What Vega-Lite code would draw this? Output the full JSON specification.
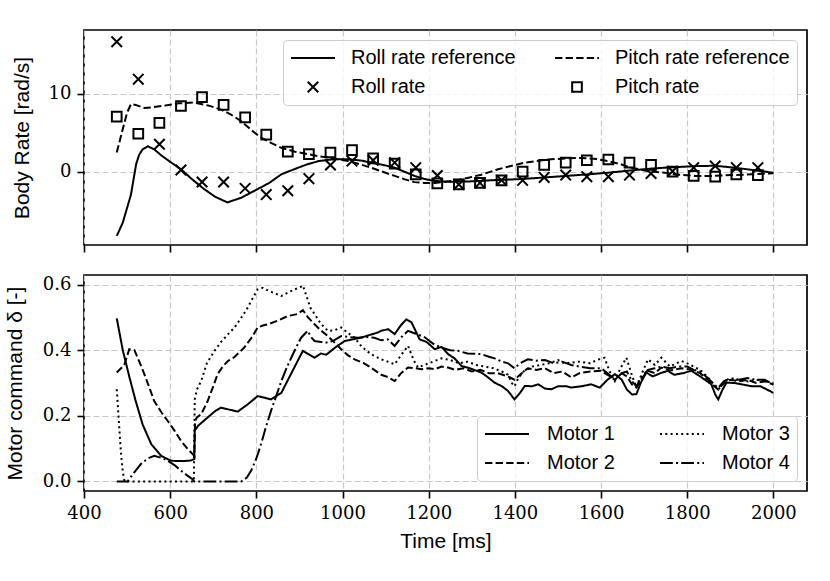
{
  "$schema": "https://vega.github.io/schema/vega-lite/v6.json",
  "background": "white",
  "autosize": {"type": "pad"},
  "padding": {"left": 3, "top": 29, "right": 24, "bottom": 5},
  "spacing": 20,
  "resolve": {
    "scale": {"strokeDash": "independent", "shape": "independent"},
    "legend": {"strokeDash": "independent", "shape": "independent"}
  },
  "config": {
    "view": {"stroke": "black", "strokeWidth": 1.7},
    "axis": {
      "domain": false,
      "tickColor": "black",
      "tickWidth": 1.6,
      "tickSize": 7,
      "labelFont": "DejaVu Serif",
      "labelFontSize": 18,
      "labelColor": "black",
      "labelPadding": 6,
      "labelFlush": false,
      "titleFont": "Liberation Sans",
      "titleFontSize": 21,
      "titleFontWeight": "normal",
      "titleColor": "black",
      "gridColor": "#c8c8c8",
      "gridDash": [6, 3],
      "gridWidth": 1.2
    },
    "legend": {
      "title": null,
      "labelFont": "Liberation Sans",
      "labelFontSize": 20,
      "labelColor": "black",
      "labelLimit": 400,
      "fillColor": "rgba(255,255,255,0.8)",
      "strokeColor": "#cccccc",
      "cornerRadius": 4,
      "padding": 7,
      "columnPadding": 38,
      "rowPadding": 7,
      "clipHeight": 22,
      "labelOffset": 15,
      "symbolStrokeWidth": 2,
      "symbolStrokeColor": "black",
      "symbolFillColor": "transparent"
    }
  },
  "datasets": {
    "rates": [
      {"t": 476, "v": -8.2, "s": "Roll rate reference"},
      {"t": 490, "v": -6.5, "s": "Roll rate reference"},
      {"t": 500, "v": -4.6, "s": "Roll rate reference"},
      {"t": 509, "v": -2.9, "s": "Roll rate reference"},
      {"t": 521, "v": 1.0, "s": "Roll rate reference"},
      {"t": 528, "v": 2.2, "s": "Roll rate reference"},
      {"t": 536, "v": 2.9, "s": "Roll rate reference"},
      {"t": 548, "v": 3.3, "s": "Roll rate reference"},
      {"t": 563, "v": 2.9, "s": "Roll rate reference"},
      {"t": 580, "v": 2.1, "s": "Roll rate reference"},
      {"t": 600, "v": 1.3, "s": "Roll rate reference"},
      {"t": 625, "v": 0.35, "s": "Roll rate reference"},
      {"t": 650, "v": -0.9, "s": "Roll rate reference"},
      {"t": 679, "v": -2.2, "s": "Roll rate reference"},
      {"t": 705, "v": -3.2, "s": "Roll rate reference"},
      {"t": 733, "v": -3.9, "s": "Roll rate reference"},
      {"t": 765, "v": -3.3, "s": "Roll rate reference"},
      {"t": 796, "v": -2.4, "s": "Roll rate reference"},
      {"t": 830, "v": -1.4, "s": "Roll rate reference"},
      {"t": 858, "v": -0.3, "s": "Roll rate reference"},
      {"t": 890, "v": 0.4, "s": "Roll rate reference"},
      {"t": 919, "v": 1.0, "s": "Roll rate reference"},
      {"t": 945, "v": 1.4, "s": "Roll rate reference"},
      {"t": 974, "v": 1.6, "s": "Roll rate reference"},
      {"t": 1000, "v": 1.65, "s": "Roll rate reference"},
      {"t": 1020, "v": 1.6, "s": "Roll rate reference"},
      {"t": 1045, "v": 1.45, "s": "Roll rate reference"},
      {"t": 1066, "v": 1.2, "s": "Roll rate reference"},
      {"t": 1095, "v": 0.9, "s": "Roll rate reference"},
      {"t": 1121, "v": 0.55, "s": "Roll rate reference"},
      {"t": 1145, "v": 0.0, "s": "Roll rate reference"},
      {"t": 1167, "v": -0.5, "s": "Roll rate reference"},
      {"t": 1190, "v": -0.9, "s": "Roll rate reference"},
      {"t": 1214, "v": -1.15, "s": "Roll rate reference"},
      {"t": 1250, "v": -1.25, "s": "Roll rate reference"},
      {"t": 1300, "v": -1.2, "s": "Roll rate reference"},
      {"t": 1350, "v": -1.05, "s": "Roll rate reference"},
      {"t": 1416, "v": -0.9, "s": "Roll rate reference"},
      {"t": 1470, "v": -0.7, "s": "Roll rate reference"},
      {"t": 1520, "v": -0.5, "s": "Roll rate reference"},
      {"t": 1570, "v": -0.3, "s": "Roll rate reference"},
      {"t": 1616, "v": -0.1, "s": "Roll rate reference"},
      {"t": 1670, "v": 0.2, "s": "Roll rate reference"},
      {"t": 1720, "v": 0.45, "s": "Roll rate reference"},
      {"t": 1763, "v": 0.6, "s": "Roll rate reference"},
      {"t": 1820, "v": 0.75, "s": "Roll rate reference"},
      {"t": 1865, "v": 0.8, "s": "Roll rate reference"},
      {"t": 1910, "v": 0.55, "s": "Roll rate reference"},
      {"t": 1960, "v": 0.2, "s": "Roll rate reference"},
      {"t": 2000, "v": -0.1, "s": "Roll rate reference"},
      {"t": 476, "v": 2.5, "s": "Pitch rate reference"},
      {"t": 490, "v": 5.5, "s": "Pitch rate reference"},
      {"t": 500, "v": 7.6, "s": "Pitch rate reference"},
      {"t": 509, "v": 8.7, "s": "Pitch rate reference"},
      {"t": 520, "v": 8.6, "s": "Pitch rate reference"},
      {"t": 540, "v": 8.2, "s": "Pitch rate reference"},
      {"t": 560, "v": 8.3, "s": "Pitch rate reference"},
      {"t": 586, "v": 8.5, "s": "Pitch rate reference"},
      {"t": 620, "v": 8.8, "s": "Pitch rate reference"},
      {"t": 656, "v": 8.9, "s": "Pitch rate reference"},
      {"t": 690, "v": 8.5, "s": "Pitch rate reference"},
      {"t": 718, "v": 8.0, "s": "Pitch rate reference"},
      {"t": 740, "v": 7.4, "s": "Pitch rate reference"},
      {"t": 765, "v": 6.5, "s": "Pitch rate reference"},
      {"t": 790, "v": 5.3, "s": "Pitch rate reference"},
      {"t": 811, "v": 4.4, "s": "Pitch rate reference"},
      {"t": 835, "v": 3.7, "s": "Pitch rate reference"},
      {"t": 858, "v": 3.1, "s": "Pitch rate reference"},
      {"t": 890, "v": 2.6, "s": "Pitch rate reference"},
      {"t": 919, "v": 2.3, "s": "Pitch rate reference"},
      {"t": 945, "v": 2.0, "s": "Pitch rate reference"},
      {"t": 974, "v": 1.8, "s": "Pitch rate reference"},
      {"t": 1013, "v": 1.4, "s": "Pitch rate reference"},
      {"t": 1040, "v": 1.0, "s": "Pitch rate reference"},
      {"t": 1066, "v": 0.55, "s": "Pitch rate reference"},
      {"t": 1095, "v": 0.0, "s": "Pitch rate reference"},
      {"t": 1121, "v": -0.5, "s": "Pitch rate reference"},
      {"t": 1145, "v": -0.95, "s": "Pitch rate reference"},
      {"t": 1167, "v": -1.3, "s": "Pitch rate reference"},
      {"t": 1190, "v": -1.4, "s": "Pitch rate reference"},
      {"t": 1214, "v": -1.4, "s": "Pitch rate reference"},
      {"t": 1240, "v": -1.25, "s": "Pitch rate reference"},
      {"t": 1270, "v": -1.0, "s": "Pitch rate reference"},
      {"t": 1295, "v": -0.7, "s": "Pitch rate reference"},
      {"t": 1322, "v": -0.35, "s": "Pitch rate reference"},
      {"t": 1361, "v": 0.35, "s": "Pitch rate reference"},
      {"t": 1400, "v": 0.9, "s": "Pitch rate reference"},
      {"t": 1423, "v": 1.2, "s": "Pitch rate reference"},
      {"t": 1477, "v": 1.6, "s": "Pitch rate reference"},
      {"t": 1520, "v": 1.75, "s": "Pitch rate reference"},
      {"t": 1554, "v": 1.8, "s": "Pitch rate reference"},
      {"t": 1590, "v": 1.65, "s": "Pitch rate reference"},
      {"t": 1616, "v": 1.4, "s": "Pitch rate reference"},
      {"t": 1645, "v": 1.0, "s": "Pitch rate reference"},
      {"t": 1670, "v": 0.55, "s": "Pitch rate reference"},
      {"t": 1710, "v": 0.1, "s": "Pitch rate reference"},
      {"t": 1748, "v": -0.1, "s": "Pitch rate reference"},
      {"t": 1780, "v": -0.35, "s": "Pitch rate reference"},
      {"t": 1817, "v": -0.5, "s": "Pitch rate reference"},
      {"t": 1860, "v": -0.5, "s": "Pitch rate reference"},
      {"t": 1902, "v": -0.4, "s": "Pitch rate reference"},
      {"t": 1950, "v": -0.3, "s": "Pitch rate reference"},
      {"t": 2000, "v": -0.15, "s": "Pitch rate reference"},
      {"t": 476, "v": 16.7, "s": "Roll rate"},
      {"t": 526, "v": 11.9, "s": "Roll rate"},
      {"t": 575, "v": 3.55, "s": "Roll rate"},
      {"t": 625, "v": 0.26, "s": "Roll rate"},
      {"t": 674, "v": -1.28, "s": "Roll rate"},
      {"t": 724, "v": -1.28, "s": "Roll rate"},
      {"t": 774, "v": -2.1, "s": "Roll rate"},
      {"t": 823, "v": -2.9, "s": "Roll rate"},
      {"t": 873, "v": -2.4, "s": "Roll rate"},
      {"t": 922, "v": -0.86, "s": "Roll rate"},
      {"t": 972, "v": 0.9, "s": "Roll rate"},
      {"t": 1022, "v": 1.4, "s": "Roll rate"},
      {"t": 1071, "v": 1.5, "s": "Roll rate"},
      {"t": 1121, "v": 1.2, "s": "Roll rate"},
      {"t": 1170, "v": 0.55, "s": "Roll rate"},
      {"t": 1220, "v": -0.45, "s": "Roll rate"},
      {"t": 1270, "v": -1.6, "s": "Roll rate"},
      {"t": 1319, "v": -1.4, "s": "Roll rate"},
      {"t": 1369, "v": -1.07, "s": "Roll rate"},
      {"t": 1418, "v": -1.07, "s": "Roll rate"},
      {"t": 1468, "v": -0.7, "s": "Roll rate"},
      {"t": 1518, "v": -0.4, "s": "Roll rate"},
      {"t": 1567, "v": -0.6, "s": "Roll rate"},
      {"t": 1617, "v": -0.6, "s": "Roll rate"},
      {"t": 1666, "v": -0.4, "s": "Roll rate"},
      {"t": 1716, "v": -0.2, "s": "Roll rate"},
      {"t": 1766, "v": 0.1, "s": "Roll rate"},
      {"t": 1815, "v": 0.55, "s": "Roll rate"},
      {"t": 1865, "v": 0.77, "s": "Roll rate"},
      {"t": 1914, "v": 0.55, "s": "Roll rate"},
      {"t": 1964, "v": 0.55, "s": "Roll rate"},
      {"t": 476, "v": 7.1, "s": "Pitch rate"},
      {"t": 526, "v": 4.9, "s": "Pitch rate"},
      {"t": 575, "v": 6.3, "s": "Pitch rate"},
      {"t": 625, "v": 8.46, "s": "Pitch rate"},
      {"t": 674, "v": 9.6, "s": "Pitch rate"},
      {"t": 724, "v": 8.6, "s": "Pitch rate"},
      {"t": 774, "v": 7.0, "s": "Pitch rate"},
      {"t": 823, "v": 4.8, "s": "Pitch rate"},
      {"t": 873, "v": 2.6, "s": "Pitch rate"},
      {"t": 922, "v": 2.3, "s": "Pitch rate"},
      {"t": 972, "v": 2.5, "s": "Pitch rate"},
      {"t": 1022, "v": 2.8, "s": "Pitch rate"},
      {"t": 1071, "v": 1.75, "s": "Pitch rate"},
      {"t": 1121, "v": 1.06, "s": "Pitch rate"},
      {"t": 1170, "v": -0.3, "s": "Pitch rate"},
      {"t": 1220, "v": -1.45, "s": "Pitch rate"},
      {"t": 1270, "v": -1.6, "s": "Pitch rate"},
      {"t": 1319, "v": -1.4, "s": "Pitch rate"},
      {"t": 1369, "v": -1.07, "s": "Pitch rate"},
      {"t": 1418, "v": 0.04, "s": "Pitch rate"},
      {"t": 1468, "v": 0.9, "s": "Pitch rate"},
      {"t": 1518, "v": 1.2, "s": "Pitch rate"},
      {"t": 1567, "v": 1.5, "s": "Pitch rate"},
      {"t": 1617, "v": 1.6, "s": "Pitch rate"},
      {"t": 1666, "v": 1.2, "s": "Pitch rate"},
      {"t": 1716, "v": 0.9, "s": "Pitch rate"},
      {"t": 1766, "v": 0.04, "s": "Pitch rate"},
      {"t": 1815, "v": -0.5, "s": "Pitch rate"},
      {"t": 1865, "v": -0.6, "s": "Pitch rate"},
      {"t": 1914, "v": -0.3, "s": "Pitch rate"},
      {"t": 1964, "v": -0.4, "s": "Pitch rate"}
    ],
    "motors": [
      {"t": 476, "v": 0.497, "m": "Motor 1"},
      {"t": 490, "v": 0.40, "m": "Motor 1"},
      {"t": 505, "v": 0.32, "m": "Motor 1"},
      {"t": 520, "v": 0.245, "m": "Motor 1"},
      {"t": 536, "v": 0.174, "m": "Motor 1"},
      {"t": 556, "v": 0.114, "m": "Motor 1"},
      {"t": 579, "v": 0.078, "m": "Motor 1"},
      {"t": 602, "v": 0.063, "m": "Motor 1"},
      {"t": 630, "v": 0.062, "m": "Motor 1"},
      {"t": 648, "v": 0.064, "m": "Motor 1"},
      {"t": 656, "v": 0.068, "m": "Motor 1"},
      {"t": 657, "v": 0.155, "m": "Motor 1"},
      {"t": 665, "v": 0.17, "m": "Motor 1"},
      {"t": 687, "v": 0.195, "m": "Motor 1"},
      {"t": 705, "v": 0.215, "m": "Motor 1"},
      {"t": 718, "v": 0.225, "m": "Motor 1"},
      {"t": 740, "v": 0.218, "m": "Motor 1"},
      {"t": 757, "v": 0.213, "m": "Motor 1"},
      {"t": 780, "v": 0.235, "m": "Motor 1"},
      {"t": 803, "v": 0.26, "m": "Motor 1"},
      {"t": 820, "v": 0.255, "m": "Motor 1"},
      {"t": 834, "v": 0.25, "m": "Motor 1"},
      {"t": 858, "v": 0.27, "m": "Motor 1"},
      {"t": 888, "v": 0.347, "m": "Motor 1"},
      {"t": 908, "v": 0.398, "m": "Motor 1"},
      {"t": 925, "v": 0.385, "m": "Motor 1"},
      {"t": 935, "v": 0.377, "m": "Motor 1"},
      {"t": 950, "v": 0.39, "m": "Motor 1"},
      {"t": 962, "v": 0.386, "m": "Motor 1"},
      {"t": 985, "v": 0.41, "m": "Motor 1"},
      {"t": 1005, "v": 0.428, "m": "Motor 1"},
      {"t": 1043, "v": 0.438, "m": "Motor 1"},
      {"t": 1060, "v": 0.445, "m": "Motor 1"},
      {"t": 1082, "v": 0.454, "m": "Motor 1"},
      {"t": 1090, "v": 0.459, "m": "Motor 1"},
      {"t": 1106, "v": 0.464, "m": "Motor 1"},
      {"t": 1121, "v": 0.449, "m": "Motor 1"},
      {"t": 1135, "v": 0.475, "m": "Motor 1"},
      {"t": 1148, "v": 0.494, "m": "Motor 1"},
      {"t": 1160, "v": 0.485, "m": "Motor 1"},
      {"t": 1179, "v": 0.433, "m": "Motor 1"},
      {"t": 1195, "v": 0.425, "m": "Motor 1"},
      {"t": 1214, "v": 0.403, "m": "Motor 1"},
      {"t": 1230, "v": 0.41, "m": "Motor 1"},
      {"t": 1245, "v": 0.388, "m": "Motor 1"},
      {"t": 1260, "v": 0.375, "m": "Motor 1"},
      {"t": 1276, "v": 0.352, "m": "Motor 1"},
      {"t": 1295, "v": 0.345, "m": "Motor 1"},
      {"t": 1322, "v": 0.332, "m": "Motor 1"},
      {"t": 1335, "v": 0.32, "m": "Motor 1"},
      {"t": 1353, "v": 0.301, "m": "Motor 1"},
      {"t": 1370, "v": 0.29, "m": "Motor 1"},
      {"t": 1384, "v": 0.276, "m": "Motor 1"},
      {"t": 1399, "v": 0.25, "m": "Motor 1"},
      {"t": 1412, "v": 0.27, "m": "Motor 1"},
      {"t": 1423, "v": 0.291, "m": "Motor 1"},
      {"t": 1440, "v": 0.29, "m": "Motor 1"},
      {"t": 1454, "v": 0.296, "m": "Motor 1"},
      {"t": 1470, "v": 0.283, "m": "Motor 1"},
      {"t": 1485, "v": 0.281, "m": "Motor 1"},
      {"t": 1500, "v": 0.29, "m": "Motor 1"},
      {"t": 1520, "v": 0.29, "m": "Motor 1"},
      {"t": 1531, "v": 0.286, "m": "Motor 1"},
      {"t": 1555, "v": 0.29, "m": "Motor 1"},
      {"t": 1577, "v": 0.296, "m": "Motor 1"},
      {"t": 1597, "v": 0.286, "m": "Motor 1"},
      {"t": 1615, "v": 0.31, "m": "Motor 1"},
      {"t": 1632, "v": 0.327, "m": "Motor 1"},
      {"t": 1648, "v": 0.31, "m": "Motor 1"},
      {"t": 1660, "v": 0.28, "m": "Motor 1"},
      {"t": 1672, "v": 0.265, "m": "Motor 1"},
      {"t": 1682, "v": 0.266, "m": "Motor 1"},
      {"t": 1692, "v": 0.3, "m": "Motor 1"},
      {"t": 1705, "v": 0.332, "m": "Motor 1"},
      {"t": 1720, "v": 0.32, "m": "Motor 1"},
      {"t": 1738, "v": 0.33, "m": "Motor 1"},
      {"t": 1755, "v": 0.337, "m": "Motor 1"},
      {"t": 1770, "v": 0.325, "m": "Motor 1"},
      {"t": 1790, "v": 0.33, "m": "Motor 1"},
      {"t": 1810, "v": 0.337, "m": "Motor 1"},
      {"t": 1830, "v": 0.32, "m": "Motor 1"},
      {"t": 1856, "v": 0.296, "m": "Motor 1"},
      {"t": 1865, "v": 0.265, "m": "Motor 1"},
      {"t": 1872, "v": 0.25, "m": "Motor 1"},
      {"t": 1882, "v": 0.28, "m": "Motor 1"},
      {"t": 1891, "v": 0.301, "m": "Motor 1"},
      {"t": 1910, "v": 0.3, "m": "Motor 1"},
      {"t": 1930, "v": 0.295, "m": "Motor 1"},
      {"t": 1950, "v": 0.29, "m": "Motor 1"},
      {"t": 1970, "v": 0.29, "m": "Motor 1"},
      {"t": 1985, "v": 0.28, "m": "Motor 1"},
      {"t": 2000, "v": 0.27, "m": "Motor 1"},
      {"t": 476, "v": 0.332, "m": "Motor 2"},
      {"t": 486, "v": 0.345, "m": "Motor 2"},
      {"t": 494, "v": 0.357, "m": "Motor 2"},
      {"t": 505, "v": 0.403, "m": "Motor 2"},
      {"t": 517, "v": 0.40, "m": "Motor 2"},
      {"t": 530, "v": 0.36, "m": "Motor 2"},
      {"t": 540, "v": 0.327, "m": "Motor 2"},
      {"t": 552, "v": 0.285, "m": "Motor 2"},
      {"t": 563, "v": 0.245, "m": "Motor 2"},
      {"t": 580, "v": 0.21, "m": "Motor 2"},
      {"t": 594, "v": 0.185, "m": "Motor 2"},
      {"t": 610, "v": 0.155, "m": "Motor 2"},
      {"t": 625, "v": 0.124, "m": "Motor 2"},
      {"t": 640, "v": 0.10, "m": "Motor 2"},
      {"t": 656, "v": 0.078, "m": "Motor 2"},
      {"t": 658, "v": 0.185, "m": "Motor 2"},
      {"t": 662, "v": 0.195, "m": "Motor 2"},
      {"t": 672, "v": 0.205, "m": "Motor 2"},
      {"t": 687, "v": 0.245, "m": "Motor 2"},
      {"t": 700, "v": 0.29, "m": "Motor 2"},
      {"t": 710, "v": 0.327, "m": "Motor 2"},
      {"t": 722, "v": 0.35, "m": "Motor 2"},
      {"t": 734, "v": 0.367, "m": "Motor 2"},
      {"t": 750, "v": 0.38, "m": "Motor 2"},
      {"t": 772, "v": 0.408, "m": "Motor 2"},
      {"t": 790, "v": 0.44, "m": "Motor 2"},
      {"t": 803, "v": 0.469, "m": "Motor 2"},
      {"t": 815, "v": 0.475, "m": "Motor 2"},
      {"t": 827, "v": 0.479, "m": "Motor 2"},
      {"t": 850, "v": 0.49, "m": "Motor 2"},
      {"t": 873, "v": 0.504, "m": "Motor 2"},
      {"t": 895, "v": 0.51, "m": "Motor 2"},
      {"t": 908, "v": 0.522, "m": "Motor 2"},
      {"t": 920, "v": 0.5, "m": "Motor 2"},
      {"t": 935, "v": 0.479, "m": "Motor 2"},
      {"t": 950, "v": 0.46, "m": "Motor 2"},
      {"t": 966, "v": 0.443, "m": "Motor 2"},
      {"t": 980, "v": 0.425, "m": "Motor 2"},
      {"t": 997, "v": 0.403, "m": "Motor 2"},
      {"t": 1012, "v": 0.385, "m": "Motor 2"},
      {"t": 1028, "v": 0.372, "m": "Motor 2"},
      {"t": 1050, "v": 0.36, "m": "Motor 2"},
      {"t": 1066, "v": 0.347, "m": "Motor 2"},
      {"t": 1090, "v": 0.325, "m": "Motor 2"},
      {"t": 1105, "v": 0.318, "m": "Motor 2"},
      {"t": 1121, "v": 0.306, "m": "Motor 2"},
      {"t": 1136, "v": 0.33, "m": "Motor 2"},
      {"t": 1152, "v": 0.347, "m": "Motor 2"},
      {"t": 1170, "v": 0.345, "m": "Motor 2"},
      {"t": 1183, "v": 0.342, "m": "Motor 2"},
      {"t": 1200, "v": 0.345, "m": "Motor 2"},
      {"t": 1214, "v": 0.342, "m": "Motor 2"},
      {"t": 1230, "v": 0.35, "m": "Motor 2"},
      {"t": 1245, "v": 0.347, "m": "Motor 2"},
      {"t": 1262, "v": 0.34, "m": "Motor 2"},
      {"t": 1280, "v": 0.345, "m": "Motor 2"},
      {"t": 1300, "v": 0.335, "m": "Motor 2"},
      {"t": 1320, "v": 0.34, "m": "Motor 2"},
      {"t": 1340, "v": 0.33, "m": "Motor 2"},
      {"t": 1360, "v": 0.33, "m": "Motor 2"},
      {"t": 1384, "v": 0.32, "m": "Motor 2"},
      {"t": 1399, "v": 0.31, "m": "Motor 2"},
      {"t": 1412, "v": 0.325, "m": "Motor 2"},
      {"t": 1430, "v": 0.345, "m": "Motor 2"},
      {"t": 1450, "v": 0.34, "m": "Motor 2"},
      {"t": 1470, "v": 0.345, "m": "Motor 2"},
      {"t": 1490, "v": 0.33, "m": "Motor 2"},
      {"t": 1510, "v": 0.335, "m": "Motor 2"},
      {"t": 1531, "v": 0.317, "m": "Motor 2"},
      {"t": 1550, "v": 0.33, "m": "Motor 2"},
      {"t": 1575, "v": 0.335, "m": "Motor 2"},
      {"t": 1600, "v": 0.337, "m": "Motor 2"},
      {"t": 1615, "v": 0.325, "m": "Motor 2"},
      {"t": 1632, "v": 0.31, "m": "Motor 2"},
      {"t": 1648, "v": 0.33, "m": "Motor 2"},
      {"t": 1660, "v": 0.32, "m": "Motor 2"},
      {"t": 1672, "v": 0.295, "m": "Motor 2"},
      {"t": 1682, "v": 0.286, "m": "Motor 2"},
      {"t": 1695, "v": 0.315, "m": "Motor 2"},
      {"t": 1709, "v": 0.337, "m": "Motor 2"},
      {"t": 1725, "v": 0.33, "m": "Motor 2"},
      {"t": 1740, "v": 0.347, "m": "Motor 2"},
      {"t": 1760, "v": 0.338, "m": "Motor 2"},
      {"t": 1787, "v": 0.345, "m": "Motor 2"},
      {"t": 1810, "v": 0.34, "m": "Motor 2"},
      {"t": 1830, "v": 0.33, "m": "Motor 2"},
      {"t": 1848, "v": 0.31, "m": "Motor 2"},
      {"t": 1863, "v": 0.29, "m": "Motor 2"},
      {"t": 1872, "v": 0.28, "m": "Motor 2"},
      {"t": 1885, "v": 0.3, "m": "Motor 2"},
      {"t": 1900, "v": 0.31, "m": "Motor 2"},
      {"t": 1920, "v": 0.305, "m": "Motor 2"},
      {"t": 1940, "v": 0.31, "m": "Motor 2"},
      {"t": 1960, "v": 0.3, "m": "Motor 2"},
      {"t": 1980, "v": 0.305, "m": "Motor 2"},
      {"t": 2000, "v": 0.295, "m": "Motor 2"},
      {"t": 476, "v": 0.281, "m": "Motor 3"},
      {"t": 481, "v": 0.18, "m": "Motor 3"},
      {"t": 486, "v": 0.083, "m": "Motor 3"},
      {"t": 490, "v": 0.03, "m": "Motor 3"},
      {"t": 494, "v": 0.0, "m": "Motor 3"},
      {"t": 560, "v": 0.0, "m": "Motor 3"},
      {"t": 655, "v": 0.0, "m": "Motor 3"},
      {"t": 657, "v": 0.25, "m": "Motor 3"},
      {"t": 662, "v": 0.28, "m": "Motor 3"},
      {"t": 672, "v": 0.306, "m": "Motor 3"},
      {"t": 685, "v": 0.36, "m": "Motor 3"},
      {"t": 703, "v": 0.398, "m": "Motor 3"},
      {"t": 718, "v": 0.425, "m": "Motor 3"},
      {"t": 734, "v": 0.448, "m": "Motor 3"},
      {"t": 750, "v": 0.47, "m": "Motor 3"},
      {"t": 765, "v": 0.499, "m": "Motor 3"},
      {"t": 778, "v": 0.525, "m": "Motor 3"},
      {"t": 788, "v": 0.55, "m": "Motor 3"},
      {"t": 803, "v": 0.585, "m": "Motor 3"},
      {"t": 815, "v": 0.59, "m": "Motor 3"},
      {"t": 830, "v": 0.58, "m": "Motor 3"},
      {"t": 845, "v": 0.572, "m": "Motor 3"},
      {"t": 858, "v": 0.565, "m": "Motor 3"},
      {"t": 873, "v": 0.575, "m": "Motor 3"},
      {"t": 888, "v": 0.585, "m": "Motor 3"},
      {"t": 900, "v": 0.59, "m": "Motor 3"},
      {"t": 908, "v": 0.597, "m": "Motor 3"},
      {"t": 915, "v": 0.57, "m": "Motor 3"},
      {"t": 925, "v": 0.53, "m": "Motor 3"},
      {"t": 935, "v": 0.51, "m": "Motor 3"},
      {"t": 950, "v": 0.48, "m": "Motor 3"},
      {"t": 966, "v": 0.459, "m": "Motor 3"},
      {"t": 980, "v": 0.46, "m": "Motor 3"},
      {"t": 997, "v": 0.469, "m": "Motor 3"},
      {"t": 1010, "v": 0.455, "m": "Motor 3"},
      {"t": 1028, "v": 0.438, "m": "Motor 3"},
      {"t": 1045, "v": 0.41, "m": "Motor 3"},
      {"t": 1066, "v": 0.388, "m": "Motor 3"},
      {"t": 1090, "v": 0.372, "m": "Motor 3"},
      {"t": 1105, "v": 0.365, "m": "Motor 3"},
      {"t": 1121, "v": 0.357, "m": "Motor 3"},
      {"t": 1136, "v": 0.385, "m": "Motor 3"},
      {"t": 1152, "v": 0.413, "m": "Motor 3"},
      {"t": 1165, "v": 0.37, "m": "Motor 3"},
      {"t": 1175, "v": 0.347, "m": "Motor 3"},
      {"t": 1190, "v": 0.355, "m": "Motor 3"},
      {"t": 1210, "v": 0.365, "m": "Motor 3"},
      {"t": 1230, "v": 0.375, "m": "Motor 3"},
      {"t": 1250, "v": 0.37, "m": "Motor 3"},
      {"t": 1270, "v": 0.36, "m": "Motor 3"},
      {"t": 1290, "v": 0.365, "m": "Motor 3"},
      {"t": 1310, "v": 0.355, "m": "Motor 3"},
      {"t": 1330, "v": 0.35, "m": "Motor 3"},
      {"t": 1350, "v": 0.345, "m": "Motor 3"},
      {"t": 1370, "v": 0.335, "m": "Motor 3"},
      {"t": 1384, "v": 0.325, "m": "Motor 3"},
      {"t": 1393, "v": 0.3, "m": "Motor 3"},
      {"t": 1399, "v": 0.29, "m": "Motor 3"},
      {"t": 1408, "v": 0.315, "m": "Motor 3"},
      {"t": 1420, "v": 0.335, "m": "Motor 3"},
      {"t": 1440, "v": 0.35, "m": "Motor 3"},
      {"t": 1460, "v": 0.355, "m": "Motor 3"},
      {"t": 1480, "v": 0.36, "m": "Motor 3"},
      {"t": 1500, "v": 0.37, "m": "Motor 3"},
      {"t": 1515, "v": 0.36, "m": "Motor 3"},
      {"t": 1531, "v": 0.362, "m": "Motor 3"},
      {"t": 1550, "v": 0.365, "m": "Motor 3"},
      {"t": 1575, "v": 0.36, "m": "Motor 3"},
      {"t": 1590, "v": 0.37, "m": "Motor 3"},
      {"t": 1608, "v": 0.377, "m": "Motor 3"},
      {"t": 1620, "v": 0.335, "m": "Motor 3"},
      {"t": 1632, "v": 0.306, "m": "Motor 3"},
      {"t": 1645, "v": 0.345, "m": "Motor 3"},
      {"t": 1659, "v": 0.377, "m": "Motor 3"},
      {"t": 1670, "v": 0.33, "m": "Motor 3"},
      {"t": 1682, "v": 0.286, "m": "Motor 3"},
      {"t": 1695, "v": 0.33, "m": "Motor 3"},
      {"t": 1709, "v": 0.372, "m": "Motor 3"},
      {"t": 1725, "v": 0.355, "m": "Motor 3"},
      {"t": 1740, "v": 0.377, "m": "Motor 3"},
      {"t": 1760, "v": 0.35, "m": "Motor 3"},
      {"t": 1775, "v": 0.36, "m": "Motor 3"},
      {"t": 1787, "v": 0.367, "m": "Motor 3"},
      {"t": 1800, "v": 0.36, "m": "Motor 3"},
      {"t": 1815, "v": 0.35, "m": "Motor 3"},
      {"t": 1830, "v": 0.34, "m": "Motor 3"},
      {"t": 1848, "v": 0.317, "m": "Motor 3"},
      {"t": 1862, "v": 0.295, "m": "Motor 3"},
      {"t": 1872, "v": 0.28, "m": "Motor 3"},
      {"t": 1890, "v": 0.307, "m": "Motor 3"},
      {"t": 1905, "v": 0.31, "m": "Motor 3"},
      {"t": 1920, "v": 0.31, "m": "Motor 3"},
      {"t": 1940, "v": 0.305, "m": "Motor 3"},
      {"t": 1960, "v": 0.31, "m": "Motor 3"},
      {"t": 1980, "v": 0.305, "m": "Motor 3"},
      {"t": 2000, "v": 0.301, "m": "Motor 3"},
      {"t": 476, "v": 0.0, "m": "Motor 4"},
      {"t": 501, "v": 0.0, "m": "Motor 4"},
      {"t": 515, "v": 0.025, "m": "Motor 4"},
      {"t": 532, "v": 0.053, "m": "Motor 4"},
      {"t": 548, "v": 0.07, "m": "Motor 4"},
      {"t": 563, "v": 0.078, "m": "Motor 4"},
      {"t": 580, "v": 0.072, "m": "Motor 4"},
      {"t": 594, "v": 0.063, "m": "Motor 4"},
      {"t": 610, "v": 0.05, "m": "Motor 4"},
      {"t": 625, "v": 0.033, "m": "Motor 4"},
      {"t": 640, "v": 0.018, "m": "Motor 4"},
      {"t": 652, "v": 0.007, "m": "Motor 4"},
      {"t": 656, "v": 0.0, "m": "Motor 4"},
      {"t": 710, "v": 0.0, "m": "Motor 4"},
      {"t": 765, "v": 0.0, "m": "Motor 4"},
      {"t": 778, "v": 0.012, "m": "Motor 4"},
      {"t": 788, "v": 0.033, "m": "Motor 4"},
      {"t": 800, "v": 0.07, "m": "Motor 4"},
      {"t": 811, "v": 0.114, "m": "Motor 4"},
      {"t": 822, "v": 0.165, "m": "Motor 4"},
      {"t": 834, "v": 0.215, "m": "Motor 4"},
      {"t": 846, "v": 0.26, "m": "Motor 4"},
      {"t": 858, "v": 0.306, "m": "Motor 4"},
      {"t": 870, "v": 0.345, "m": "Motor 4"},
      {"t": 881, "v": 0.377, "m": "Motor 4"},
      {"t": 893, "v": 0.41, "m": "Motor 4"},
      {"t": 904, "v": 0.438, "m": "Motor 4"},
      {"t": 919, "v": 0.459, "m": "Motor 4"},
      {"t": 927, "v": 0.44, "m": "Motor 4"},
      {"t": 935, "v": 0.428, "m": "Motor 4"},
      {"t": 950, "v": 0.425, "m": "Motor 4"},
      {"t": 966, "v": 0.423, "m": "Motor 4"},
      {"t": 980, "v": 0.43, "m": "Motor 4"},
      {"t": 997, "v": 0.443, "m": "Motor 4"},
      {"t": 1015, "v": 0.44, "m": "Motor 4"},
      {"t": 1036, "v": 0.438, "m": "Motor 4"},
      {"t": 1055, "v": 0.44, "m": "Motor 4"},
      {"t": 1074, "v": 0.438, "m": "Motor 4"},
      {"t": 1090, "v": 0.43, "m": "Motor 4"},
      {"t": 1105, "v": 0.433, "m": "Motor 4"},
      {"t": 1121, "v": 0.413, "m": "Motor 4"},
      {"t": 1137, "v": 0.44, "m": "Motor 4"},
      {"t": 1152, "v": 0.459, "m": "Motor 4"},
      {"t": 1170, "v": 0.45, "m": "Motor 4"},
      {"t": 1190, "v": 0.44, "m": "Motor 4"},
      {"t": 1210, "v": 0.42, "m": "Motor 4"},
      {"t": 1229, "v": 0.408, "m": "Motor 4"},
      {"t": 1250, "v": 0.4, "m": "Motor 4"},
      {"t": 1268, "v": 0.398, "m": "Motor 4"},
      {"t": 1290, "v": 0.39, "m": "Motor 4"},
      {"t": 1322, "v": 0.388, "m": "Motor 4"},
      {"t": 1340, "v": 0.38, "m": "Motor 4"},
      {"t": 1353, "v": 0.375, "m": "Motor 4"},
      {"t": 1370, "v": 0.365, "m": "Motor 4"},
      {"t": 1384, "v": 0.36, "m": "Motor 4"},
      {"t": 1399, "v": 0.345, "m": "Motor 4"},
      {"t": 1412, "v": 0.36, "m": "Motor 4"},
      {"t": 1430, "v": 0.372, "m": "Motor 4"},
      {"t": 1450, "v": 0.368, "m": "Motor 4"},
      {"t": 1470, "v": 0.37, "m": "Motor 4"},
      {"t": 1490, "v": 0.36, "m": "Motor 4"},
      {"t": 1510, "v": 0.365, "m": "Motor 4"},
      {"t": 1531, "v": 0.355, "m": "Motor 4"},
      {"t": 1550, "v": 0.35, "m": "Motor 4"},
      {"t": 1575, "v": 0.345, "m": "Motor 4"},
      {"t": 1600, "v": 0.345, "m": "Motor 4"},
      {"t": 1615, "v": 0.33, "m": "Motor 4"},
      {"t": 1632, "v": 0.31, "m": "Motor 4"},
      {"t": 1648, "v": 0.33, "m": "Motor 4"},
      {"t": 1660, "v": 0.335, "m": "Motor 4"},
      {"t": 1672, "v": 0.305, "m": "Motor 4"},
      {"t": 1682, "v": 0.29, "m": "Motor 4"},
      {"t": 1695, "v": 0.32, "m": "Motor 4"},
      {"t": 1709, "v": 0.34, "m": "Motor 4"},
      {"t": 1725, "v": 0.345, "m": "Motor 4"},
      {"t": 1740, "v": 0.35, "m": "Motor 4"},
      {"t": 1760, "v": 0.345, "m": "Motor 4"},
      {"t": 1780, "v": 0.35, "m": "Motor 4"},
      {"t": 1800, "v": 0.35, "m": "Motor 4"},
      {"t": 1815, "v": 0.34, "m": "Motor 4"},
      {"t": 1830, "v": 0.335, "m": "Motor 4"},
      {"t": 1848, "v": 0.315, "m": "Motor 4"},
      {"t": 1863, "v": 0.295, "m": "Motor 4"},
      {"t": 1872, "v": 0.285, "m": "Motor 4"},
      {"t": 1885, "v": 0.305, "m": "Motor 4"},
      {"t": 1900, "v": 0.315, "m": "Motor 4"},
      {"t": 1920, "v": 0.31, "m": "Motor 4"},
      {"t": 1940, "v": 0.315, "m": "Motor 4"},
      {"t": 1960, "v": 0.31, "m": "Motor 4"},
      {"t": 1980, "v": 0.31, "m": "Motor 4"},
      {"t": 2000, "v": 0.295, "m": "Motor 4"}
    ]
  },
  "vconcat": [
    {
      "width": 723,
      "height": 215,
      "data": {"name": "rates"},
      "encoding": {
        "x": {
          "field": "t",
          "type": "quantitative",
          "scale": {"domain": [400, 2078], "nice": false, "zero": false},
          "axis": {"values": [400, 600, 800, 1000, 1200, 1400, 1600, 1800, 2000], "labels": false, "title": null}
        },
        "y": {
          "field": "v",
          "type": "quantitative",
          "scale": {"domain": [-9.36, 18.2], "nice": false},
          "axis": {"values": [0, 10], "format": "d", "title": "Body Rate [rad/s]", "titleBaseline": "alphabetic", "titleX": -56}
        }
      },
      "layer": [
        {
          "transform": [{"filter": {"field": "s", "oneOf": ["Roll rate reference", "Pitch rate reference"]}}],
          "mark": {"type": "line", "color": "black", "strokeWidth": 2},
          "encoding": {
            "strokeDash": {
              "field": "s",
              "type": "nominal",
              "scale": {"domain": ["Roll rate reference", "Pitch rate reference"], "range": [[1, 0], [7.4, 3.2]]},
              "legend": null
            }
          }
        },
        {
          "transform": [{"filter": {"field": "s", "oneOf": ["Roll rate", "Pitch rate"]}}],
          "mark": {"type": "point", "filled": false, "color": "black", "strokeWidth": 2, "size": 1936, "opacity": 1},
          "encoding": {
            "shape": {
              "field": "s",
              "type": "nominal",
              "scale": {
                "domain": ["Roll rate reference", "Roll rate", "Pitch rate reference", "Pitch rate"],
                "range": [
                  "M-1,0H1",
                  "M-0.24,-0.24L0.24,0.24M-0.24,0.24L0.24,-0.24",
                  "M-1,0H-0.664M-0.519,0H-0.183M-0.038,0H0.298M0.443,0H0.779M0.924,0H1",
                  "M-0.22,-0.22H0.22V0.22H-0.22Z"
                ]
              },
              "legend": {"orient": "top-right", "offset": 10, "columns": 2, "symbolSize": 1936}
            }
          }
        }
      ]
    },
    {
      "width": 723,
      "height": 216,
      "data": {"name": "motors"},
      "mark": {"type": "line", "color": "black", "strokeWidth": 2},
      "encoding": {
        "x": {
          "field": "t",
          "type": "quantitative",
          "scale": {"domain": [400, 2078], "nice": false, "zero": false},
          "axis": {"values": [400, 600, 800, 1000, 1200, 1400, 1600, 1800, 2000], "format": "d", "title": "Time [ms]", "titlePadding": 8}
        },
        "y": {
          "field": "v",
          "type": "quantitative",
          "scale": {"domain": [-0.029, 0.629], "nice": false},
          "axis": {"values": [0, 0.2, 0.4, 0.6], "format": ".1f", "title": "Motor command δ [-]", "titleBaseline": "alphabetic", "titleX": -63}
        },
        "strokeDash": {
          "field": "m",
          "type": "nominal",
          "scale": {"domain": ["Motor 1", "Motor 2", "Motor 3", "Motor 4"], "range": [[1, 0], [7.4, 3.2], [2, 3.3], [12.8, 3.2, 2, 3.2]]},
          "legend": {"orient": "bottom-right", "offset": 10, "columns": 2, "columnPadding": 44, "symbolType": "stroke", "symbolSize": 1936, "labelOffset": 17}
        }
      }
    }
  ]
}
